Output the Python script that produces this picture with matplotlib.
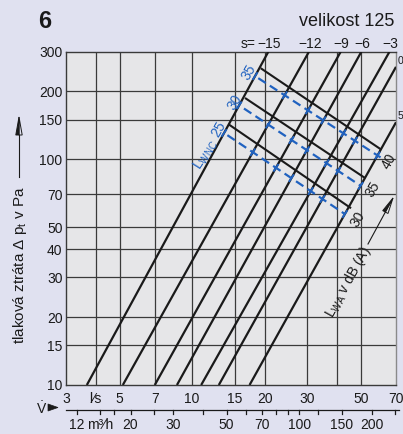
import numpy as np
import matplotlib
matplotlib.use("Agg")
import matplotlib.pyplot as plt
from matplotlib.transforms import blended_transform_factory
from matplotlib.patches import Polygon

plt.rcParams['font.family'] = ['Liberation Sans', 'DejaVu Sans']
plt.rcParams['mathtext.default'] = 'regular'

# --- data -------------------------------------------------------------
# damper setting lines s: end points (flow l/s, pressure drop Pa)
s_labels = ["\u221215", "\u221212", "\u22129", "\u22126", "\u22123", "0", "5"]
s_flow = [[3.66, 20.7], [5.16, 30.5], [7.0, 41.3], [8.65, 50.3],
          [10.9, 65.8], [12.9, 70.0], [17.3, 70.0]]
s_dp = [[10, 300], [10, 300], [10, 300], [10, 300],
        [10, 300], [10, 257], [10, 146]]

# sound power level L_WA in dB(A) (solid black)
lwa_labels = ["40", "35", "30"]
lwa_flow = [[19.4, 60.4], [16.7, 51.8], [14.3, 45.2]]
lwa_dp = [[252, 111], [186, 83], [142, 61.1]]

# L_WNC (dashed blue)
lwnc_labels = ["35", "30", "25"]
lwnc_flow = [[18.8, 60.4], [16.4, 50.0], [14.0, 43.0]]
lwnc_dp = [[229, 102], [168, 76.3], [128, 57.2]]

x_grid = [4, 5, 7, 10, 15, 20, 30, 40, 50]
y_grid = [15, 20, 30, 40, 50, 70, 100, 150, 200]
x_ticks = [3, 4, 5, 7, 10, 15, 20, 30, 50, 70]
x_ticklabels = ["3", "l\u2044s", "5", "7", "10", "15", "20", "30", "50", "70"]
y_ticks = [10, 15, 20, 30, 40, 50, 70, 100, 150, 200, 300]

m3h_major = [12, 15, 20, 30, 50, 70, 100, 150, 200]
m3h_labels = ["12", "m\u00b3\u2044h", "20", "30", "50", "70", "100", "150", "200"]
m3h_minor = [17, 25, 40, 60, 80, 90, 120, 250]

# --- style ------------------------------------------------------------
BG = "#E0E1F0"
PLOT_BG = "#E6E6E8"
GRID = "#3A3A3A"
INK = "#1A1A1A"
BLUE = "#2062C0"

W, H = 403, 434
fig = plt.figure(figsize=(W / 100, H / 100), dpi=100, facecolor=BG)
ax = fig.add_axes([66 / W, 1 - 385 / H, 330 / W, 333.3 / H])
ax.set_xscale('log')
ax.set_yscale('log')
ax.set_xlim(3, 70)
ax.set_ylim(10, 300)
ax.set_facecolor(PLOT_BG)

for v in x_grid:
    ax.axvline(v, color=GRID, lw=0.9, zorder=1)
for p in y_grid:
    ax.axhline(p, color=GRID, lw=0.9, zorder=1)
for sp in ax.spines.values():
    sp.set_color(GRID)
    sp.set_linewidth(1.0)
ax.spines['right'].set_color("#8A8A8A")

ax.xaxis.set_minor_locator(matplotlib.ticker.NullLocator())
ax.yaxis.set_minor_locator(matplotlib.ticker.NullLocator())
ax.set_xticks(x_ticks, x_ticklabels)
ax.set_yticks(y_ticks, [str(t) for t in y_ticks])
ax.tick_params(axis='x', length=0, pad=5, labelsize=10, colors=INK)
ax.tick_params(axis='y', length=0, pad=2.5, labelsize=10, colors=INK)

# s lines
for fl, dp, lab in zip(s_flow, s_dp, s_labels):
    ax.plot(fl, dp, color=INK, lw=1.6, solid_capstyle='butt', zorder=3)
    if dp[1] >= 300:
        ax.annotate(lab, xy=(fl[1], 300), xytext=(1, 8), textcoords='offset pixels',
                    ha='center', va='center', fontsize=10, color=INK,
                    annotation_clip=False)
    else:
        ax.annotate(lab, xy=(70, dp[1]), xytext=(7, 6), textcoords='offset pixels',
                    ha='right', va='center', fontsize=7.5, color=INK,
                    annotation_clip=False)
ax.annotate("s=", xy=(s_flow[0][1], 300), xytext=(-13, 8), textcoords='offset pixels',
            ha='right', va='center', fontsize=10, color=INK, annotation_clip=False)

# L_WA lines
for fl, dp, lab in zip(lwa_flow, lwa_dp, lwa_labels):
    ax.plot(fl, dp, color=INK, lw=1.5, zorder=4)
    ax.annotate(lab, xy=(fl[1], dp[1]), xytext=(8, -12), textcoords='offset pixels',
                ha='center', va='center', rotation=60, fontsize=10, color=INK,
                annotation_clip=False)

# L_WNC lines
for fl, dp, lab in zip(lwnc_flow, lwnc_dp, lwnc_labels):
    ax.plot(fl, dp, color=BLUE, lw=1.6, linestyle=(0, (4, 2.2)), zorder=5)
    ax.annotate(lab, xy=(fl[0], dp[0]), xytext=(-9, 6), textcoords='offset pixels',
                ha='center', va='center', rotation=60, fontsize=10, color=BLUE,
                annotation_clip=False)

# secondary flow scale in m3/h
tr = blended_transform_factory(ax.transData, ax.transAxes)
line_y = -0.075
ax.plot([3, 72], [line_y, line_y], color=INK, lw=0.9, transform=tr, clip_on=False)
for q in m3h_major + m3h_minor:
    ax.plot([q / 3.6] * 2, [line_y, line_y - 0.012], color=INK, lw=0.9,
            transform=tr, clip_on=False)
for q, lab in zip(m3h_major, m3h_labels):
    ax.text(q / 3.6, -0.12, lab, transform=tr, ha='center', va='center',
            fontsize=10, color=INK)

# overlay in pixel coordinates for free-standing annotations
ov = fig.add_axes([0, 0, 1, 1], zorder=10)
ov.set_xlim(0, W)
ov.set_ylim(H, 0)
ov.axis('off')


def to_px(v, p):
    dx, dy = ax.transData.transform((v, p))
    return np.array([dx, H - dy])


# short blue marks where the L_WNC lines cross the s lines
for fl, dp in zip(lwnc_flow, lwnc_dp):
    a0 = to_px(fl[0], dp[0])
    a1 = to_px(fl[1], dp[1])
    u = (a1 - a0) / np.hypot(*(a1 - a0))
    nrm = np.array([-u[1], u[0]])
    for sf, sd in zip(s_flow, s_dp):
        b0 = to_px(sf[0], sd[0])
        b1 = to_px(sf[1], sd[1])
        M = np.column_stack([a1 - a0, b0 - b1])
        t, r = np.linalg.solve(M, b0 - a0)
        if -0.08 <= t <= 1.06 and 0 <= r <= 1:
            c = a0 + t * (a1 - a0)
            ov.plot([c[0] - 4.5 * nrm[0], c[0] + 4.5 * nrm[0]],
                    [c[1] - 4.5 * nrm[1], c[1] + 4.5 * nrm[1]],
                    color=BLUE, lw=1.4, solid_capstyle='butt')

ov.text(45, 22, "6", fontsize=17, fontweight='bold', ha='center', va='center', color=INK)
ov.text(347, 22, "velikost 125", fontsize=13, ha='center', va='center', color=INK)

ov.text(20, 265, "tlaková ztráta \u0394 $p_t$ v Pa", rotation=90, fontsize=11,
        ha='center', va='center', color=INK)


def tech_arrow(x0, y0, x1, y1, head=18, half=3.2):
    d = np.array([x1 - x0, y1 - y0], float)
    L = np.hypot(*d)
    u = d / L
    n = np.array([-u[1], u[0]])
    base = np.array([x1, y1]) - head * u
    ov.plot([x0, base[0]], [y0, base[1]], color=INK, lw=0.8)
    apex = np.array([x1, y1])
    ov.add_patch(Polygon([apex, base + half * n, base], closed=True,
                         facecolor='none', edgecolor=INK, lw=0.7))
    ov.add_patch(Polygon([apex, base - half * n, base], closed=True,
                         facecolor=INK, edgecolor=INK, lw=0.7))


tech_arrow(19, 177, 19, 117)
tech_arrow(368, 244, 393, 198, head=16, half=3)

ov.text(348, 282, "$L_{WA}$ v dB (A)", rotation=61, fontsize=10,
        ha='center', va='center', color=INK)
ov.text(206, 155, "$L_{WNC}$", rotation=58, fontsize=10,
        ha='center', va='center', color=BLUE)

ov.text(42, 409, "$\\dot{V}$", fontsize=10, ha='center', va='center', color=INK)
ov.add_patch(Polygon([[48, 404], [48, 411], [58, 407.5]], closed=True,
                     facecolor=INK, edgecolor=INK, lw=0.5))

fig.savefig("out.png", dpi=100, facecolor=BG)
